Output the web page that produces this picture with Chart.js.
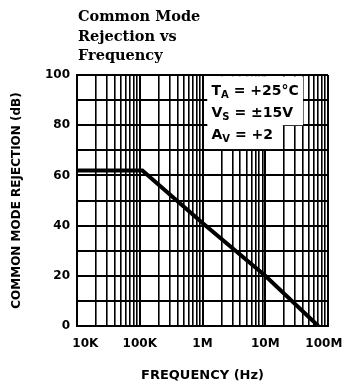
<!DOCTYPE html>
<html>
<head>
<meta charset="utf-8">
<script src="https://cdn.jsdelivr.net/npm/chart.js@4"></script>
<style>
  html, body { margin: 0; padding: 0; background: #fff; }
  #wrap { width: 346px; height: 387px; }
</style>
</head>
<body>
<div id="wrap"><canvas id="cmrChart" width="346" height="387"></canvas></div>
<script>
// data
const titleLines = ["Common Mode", "Rejection vs", "Frequency"];
const freqHz = [1e4, 1.1e5, 1e6, 1e7, 7e7];
const cmrDb = [62, 62, 41, 20, 0];
const xTickValues = [1e4, 1e5, 1e6, 1e7, 1e8];
const xTickLabels = ["10K", "100K", "1M", "10M", "100M"];
const yTickLabels = [0, 20, 40, 60, 80, 100];
const notes = [["T", "A", " = +25°C"], ["V", "S", " = ±15V"], ["A", "V", " = +2"]];

// log grid: 1..9 in each decade
const xGrid = [];
for (let i = 0; i < xTickValues.length - 1; i++) {
    for (let k = 1; k <= 9; k++) xGrid.push(k * xTickValues[i]);
}
xGrid.push(xTickValues[xTickValues.length - 1]);

const titlePlugin = {
    id: "titleText",
    afterDraw(chart) {
        const c = chart.ctx;
        const a = chart.chartArea;
        c.save();
        c.fillStyle = "#000";
        c.font = "bold 14.5px 'DejaVu Serif'";
        c.textAlign = "left";
        c.textBaseline = "alphabetic";
        titleLines.forEach((t, i) => c.fillText(t, a.left + 1, a.top - 54 + i * 19.5));
        c.restore();
    }
};

const notePlugin = {
    id: "noteBox",
    beforeDatasetsDraw(chart) {
        const c = chart.ctx;
        const x = chart.scales.x, y = chart.scales.y;
        const left = x.getPixelForValue(1.2e6);
        const top = y.getPixelForValue(100) + 1.5;
        c.save();
        c.fillStyle = "#fff";
        c.fillRect(left, top, x.getPixelForValue(4e7) - left, y.getPixelForValue(80) - top);
        c.fillRect(left, top, x.getPixelForValue(1.9e7) - left, y.getPixelForValue(70.5) - top);
        c.fillStyle = "#000";
        c.textBaseline = "alphabetic";
        notes.forEach((n, i) => {
            let px = left + 4;
            const py = top + 18 + i * 22;
            c.font = "bold 14px 'DejaVu Sans'";
            c.fillText(n[0], px, py);
            px += c.measureText(n[0]).width;
            c.font = "bold 10px 'DejaVu Sans'";
            c.fillText(n[1], px, py + 3);
            px += c.measureText(n[1]).width;
            c.font = "bold 14px 'DejaVu Sans'";
            c.fillText(n[2], px, py);
        });
        c.restore();
    }
};

new Chart(document.getElementById("cmrChart"), {
    type: "line",
    data: {
        datasets: [{
            data: freqHz.map((f, i) => ({ x: f, y: cmrDb[i] })),
            borderColor: "#000",
            borderWidth: 4,
            pointRadius: 0,
            tension: 0
        }]
    },
    options: {
        responsive: false,
        animation: false,
        devicePixelRatio: 1,
        layout: { padding: { top: 75, right: 18, left: 0, bottom: 0 } },
        plugins: { legend: { display: false }, tooltip: { enabled: false } },
        scales: {
            x: {
                type: "logarithmic",
                min: 1e4,
                max: 1e8,
                afterBuildTicks: (s) => { s.ticks = xGrid.map(v => ({ value: v })); },
                afterFit: (s) => { s.height = 61; s.paddingLeft = 0; s.paddingRight = 0; },
                ticks: {
                    autoSkip: false,
                    maxRotation: 0,
                    padding: 11,
                    color: "#000",
                    font: { family: "DejaVu Sans", weight: "bold", size: 12 },
                    callback: (v) => {
                        const i = xTickValues.indexOf(v);
                        if (i < 0) return "";
                        // nudge end labels inward like the original print
                        if (i === 0) return "    " + xTickLabels[i];
                        if (i === xTickLabels.length - 1) return xTickLabels[i] + "  ";
                        return xTickLabels[i];
                    }
                },
                grid: {
                    color: "#000",
                    drawTicks: false,
                    lineWidth: (ctx) => (ctx.tick && xTickValues.includes(ctx.tick.value)) ? 2 : 1.6
                },
                border: { color: "#000", width: 2 },
                title: {
                    display: true,
                    text: "FREQUENCY (Hz)",
                    color: "#000",
                    font: { family: "DejaVu Sans", weight: "bold", size: 13 },
                    padding: { top: 0, bottom: 4 }
                }
            },
            y: {
                min: 0,
                max: 100,
                afterFit: (s) => { s.width = 77; s.paddingTop = 0; s.paddingBottom = 0; },
                ticks: {
                    stepSize: 10,
                    autoSkip: false,
                    padding: 7,
                    color: "#000",
                    font: { family: "DejaVu Sans", weight: "bold", size: 12 },
                    callback: (v) => yTickLabels.includes(v) ? String(v) : ""
                },
                grid: { color: "#000", drawTicks: false, lineWidth: 2 },
                border: { color: "#000", width: 2 },
                title: {
                    display: true,
                    text: "COMMON MODE REJECTION (dB)",
                    color: "#000",
                    font: { family: "DejaVu Sans", weight: "bold", size: 12 },
                    padding: { top: 10, bottom: 0 }
                }
            }
        }
    },
    plugins: [notePlugin, titlePlugin]
});
</script>
</body>
</html>
